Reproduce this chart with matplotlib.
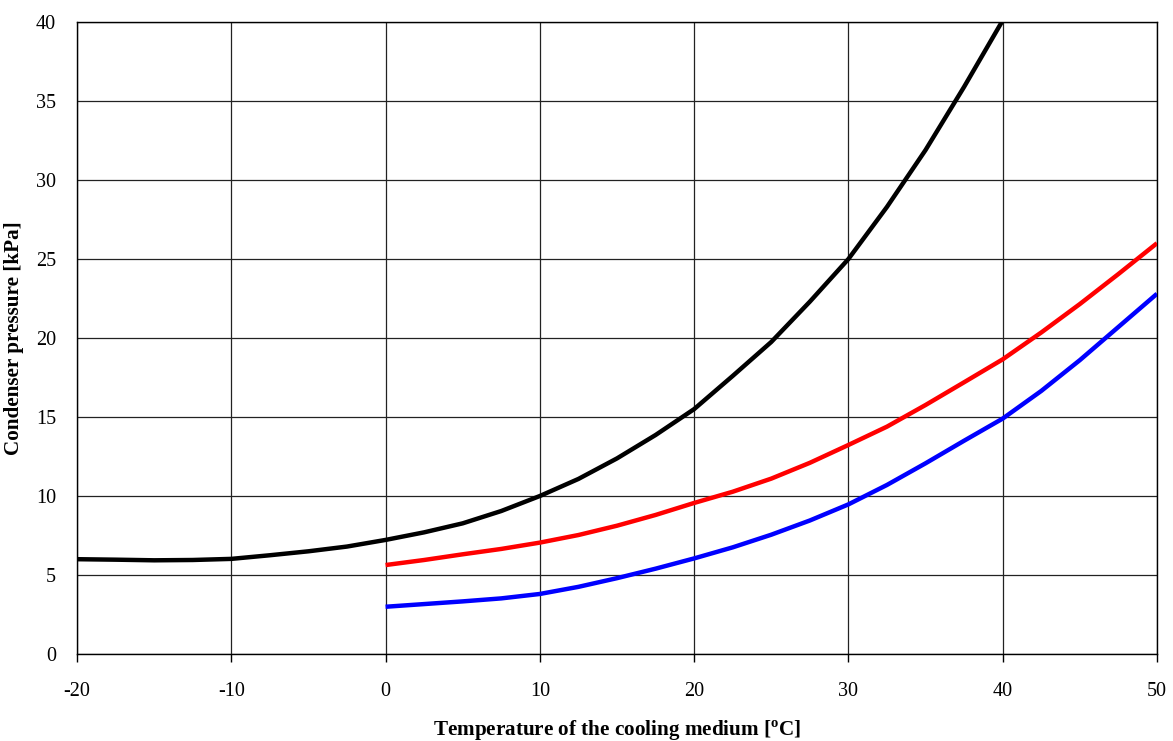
import matplotlib
matplotlib.use("Agg")
import matplotlib.pyplot as plt

# values (temperature in degC, pressure in kPa)
t_black = [-20, -17.5, -15, -12.5, -10, -7.5, -5, -2.5, 0, 2.5, 5, 7.5, 10, 12.5, 15, 17.5,
           20, 22.5, 25, 27.5, 30, 32.5, 35, 37.5, 40]
p_black = [6.0, 5.97, 5.93, 5.95, 6.02, 6.25, 6.5, 6.8, 7.22, 7.7, 8.27, 9.05, 10.0, 11.08, 12.38, 13.86,
           15.5, 17.6, 19.75, 22.3, 25.0, 28.3, 31.9, 35.9, 40.1]

t_red = [0, 2.5, 5, 7.5, 10, 12.5, 15, 17.5, 20, 22.5, 25, 27.5, 30, 32.5, 35, 37.5, 40,
         42.5, 45, 47.5, 50]
p_red = [5.63, 5.95, 6.31, 6.65, 7.05, 7.53, 8.12, 8.8, 9.56, 10.27, 11.1, 12.1, 13.23, 14.39, 15.76, 17.2, 18.65,
         20.35, 22.15, 24.05, 26.0]

t_blue = [0, 2.5, 5, 7.5, 10, 12.5, 15, 17.5, 20, 22.5, 25, 27.5, 30, 32.5, 35, 37.5, 40,
          42.5, 45, 47.5, 50]
p_blue = [2.99, 3.16, 3.33, 3.52, 3.8, 4.25, 4.8, 5.4, 6.05, 6.75, 7.55, 8.45, 9.47, 10.7, 12.07, 13.5, 14.9,
          16.65, 18.6, 20.7, 22.8]

xticks = list(range(-20, 51, 10))
yticks = list(range(0, 41, 5))

plt.rcParams["font.family"] = ["Liberation Serif", "DejaVu Serif"]
plt.rcParams["axes.unicode_minus"] = False

fig = plt.figure(figsize=(11.73, 7.41), dpi=100)
ax = fig.add_axes([77 / 1173, 1 - 654 / 741, (1157 - 77) / 1173, (654 - 22) / 741])

ax.plot(t_black, p_black, color="black", lw=3.2, solid_capstyle="butt", zorder=3)
ax.plot(t_red, p_red, color="#ff0000", lw=3.2, solid_capstyle="butt", zorder=3)
ax.plot(t_blue, p_blue, color="#0000ff", lw=3.2, solid_capstyle="butt", zorder=3)

ax.set_xlim(-20, 50)
ax.set_ylim(0, 40)
ax.set_xticks(xticks)
ax.set_yticks(yticks)
ax.grid(True, color="#222222", lw=0.9)
ax.set_axisbelow(True)
for s in ax.spines.values():
    s.set_color("black")
    s.set_linewidth(1.0)

ax.tick_params(axis="x", direction="out", length=6, width=1, pad=14, labelsize=14.5)
ax.tick_params(axis="y", length=0, pad=15, labelsize=14.5)

ax.set_xlabel("Temperature of the cooling medium [$^{\\mathregular{o}}$C]",
              fontsize=15.2, fontweight="bold", labelpad=13)
ax.set_ylabel("Condenser pressure [kPa]", fontsize=15.2, fontweight="bold", labelpad=9)

fig.savefig("out.png", dpi=100)
